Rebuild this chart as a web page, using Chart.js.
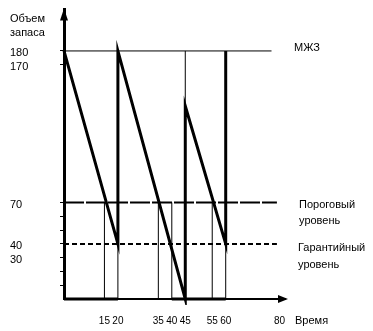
<!DOCTYPE html>
<html>
<head>
<meta charset="utf-8">
<script src="https://cdn.jsdelivr.net/npm/chart.js@4/dist/chart.umd.min.js"></script>
<style>
  html, body { margin: 0; padding: 0; background: #fff; }
  #wrap { width: 373px; height: 331px; }
</style>
</head>
<body>
<div id="wrap"><canvas id="c" width="373" height="331"></canvas></div>
<script>
// Inventory sawtooth: time vs stock level
const sawTime  = [0, 20, 20, 45, 45, 60, 60];
const sawStock = [180, 40, 180, 0, 140, 40, 180];

// Reference levels
const maxStock = 180;        // МЖЗ
const thresholdLevel = 70;   // пороговый уровень
const guaranteeLevel = 40;   // гарантийный уровень

// Vertical guide lines (thin) at characteristic moments
const guideTime = [15, 20, 35, 40, 45, 55, 60];
const guideFrom = [0, 0, 0, 0, 140, 0, 0];
const guideTo   = [70, 40, 70, 70, 180, 70, 40];

// Thick stretches of the time axis
const busyStart = [0, 40];
const busyEnd   = [20, 60];

// Axis ticks
const xTickValues = [15, 20, 35, 40, 45, 55, 60, 80];
const yTickValues = [10, 20, 30, 40, 50, 60, 70, 170, 180];
const yLabelValues = [30, 40, 70, 170, 180];

const FONT = '"Liberation Sans", Arial, sans-serif';

const datasets = [];

// horizontal level lines
datasets.push({ data: [{x: 0, y: maxStock}, {x: 77, y: maxStock}], borderColor: '#000', borderWidth: 1 });
datasets.push({ data: [{x: 0, y: thresholdLevel}, {x: 79, y: thresholdLevel}], borderColor: '#000', borderWidth: 2, borderDash: [20, 2] });
datasets.push({ data: [{x: 0, y: guaranteeLevel}, {x: 79, y: guaranteeLevel}], borderColor: '#000', borderWidth: 2, borderDash: [5, 3] });

// thin guides
guideTime.forEach((t, i) => {
  datasets.push({ data: [{x: t, y: guideFrom[i]}, {x: t, y: guideTo[i]}], borderColor: '#000', borderWidth: 1 });
});

// thick axis stretches
busyStart.forEach((s, i) => {
  datasets.push({ data: [{x: s, y: 0}, {x: busyEnd[i], y: 0}], borderColor: '#000', borderWidth: 3 });
});

// sawtooth
datasets.push({
  data: sawTime.map((t, i) => ({x: t, y: sawStock[i]})),
  borderColor: '#000', borderWidth: 3, borderJoinStyle: 'miter', borderCapStyle: 'butt'
});

datasets.forEach(d => {
  d.pointRadius = 0;
  d.showLine = true;
  d.fill = false;
  d.tension = 0;
  d.clip = 6;
});

const decor = {
  id: 'decor',
  afterDraw(chart) {
    const ctx = chart.ctx;
    const a = chart.chartArea;
    ctx.save();
    ctx.fillStyle = '#000';
    // y axis arrow
    ctx.beginPath();
    ctx.moveTo(a.left, a.top - 1);
    ctx.lineTo(a.left - 4, a.top + 11);
    ctx.lineTo(a.left + 4, a.top + 11);
    ctx.closePath();
    ctx.fill();
    // x axis arrow
    ctx.beginPath();
    ctx.moveTo(a.right + 3, a.bottom);
    ctx.lineTo(a.right - 7, a.bottom - 4);
    ctx.lineTo(a.right - 7, a.bottom + 4);
    ctx.closePath();
    ctx.fill();

    ctx.font = '11px ' + FONT;
    ctx.textBaseline = 'middle';
    ctx.textAlign = 'left';
    ctx.fillText('Объем', 10, 19);
    ctx.fillText('запаса', 10, 33);

    ctx.fillText('МЖЗ', 294, 48);
    ctx.fillText('Пороговый', 299, 205);
    ctx.fillText('уровень', 299, 221);
    ctx.fillText('Гарантийный', 298, 248);
    ctx.fillText('уровень', 298, 265);
    ctx.fillText('Время', 295, 321);
    ctx.restore();
  }
};

new Chart(document.getElementById('c'), {
  type: 'line',
  data: { datasets },
  options: {
    responsive: false,
    animation: false,
    devicePixelRatio: 1,
    layout: { padding: { left: 10, right: 88, top: 4, bottom: 0 } },
    plugins: { legend: { display: false }, tooltip: { enabled: false } },
    scales: {
      x: {
        type: 'linear',
        min: 0, max: 82,
        afterBuildTicks: s => { s.ticks = xTickValues.map(v => ({value: v})); },
        afterFit: s => { s.height = 32; },
        grid: { display: false, drawTicks: false },
        border: { display: true, color: '#000', width: 2 },
        ticks: { color: '#000', font: { family: FONT, size: 10 }, padding: 16, autoSkip: false, maxRotation: 0 }
      },
      y: {
        type: 'linear',
        min: 0, max: 210,
        afterBuildTicks: s => { s.ticks = yTickValues.map(v => ({value: v})); },
        afterFit: s => { s.width = 54; },
        grid: { display: true, drawOnChartArea: false, drawTicks: true, tickLength: 4, color: '#000', lineWidth: 1 },
        border: { display: true, color: '#000', width: 3 },
        ticks: {
          color: '#000', font: { family: FONT, size: 11 }, crossAlign: 'far', labelOffset: 2, autoSkip: false,
          callback: v => yLabelValues.includes(v) ? String(v) : ''
        }
      }
    }
  },
  plugins: [decor]
});
</script>
</body>
</html>
